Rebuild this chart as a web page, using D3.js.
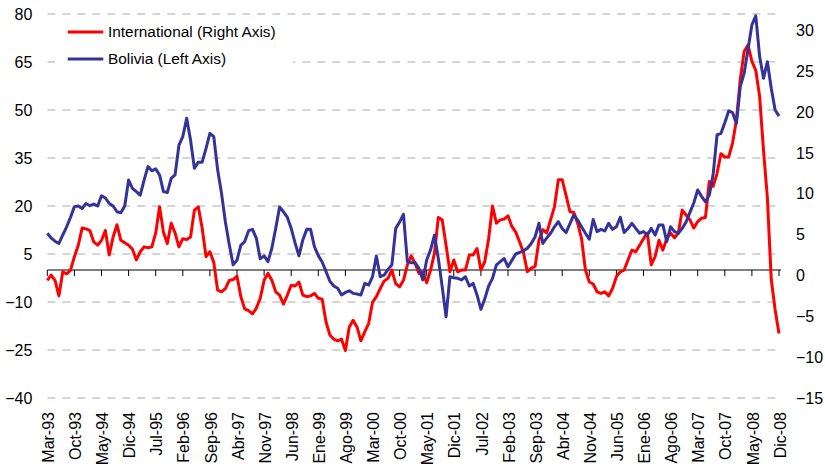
<!DOCTYPE html>
<html>
<head>
<meta charset="utf-8">
<script src="https://cdn.jsdelivr.net/npm/d3@7"></script>
<style>
  html, body { margin: 0; padding: 0; background: #fff; }
  svg { display: block; font-family: Arial, "Liberation Sans", sans-serif; }
</style>
</head>
<body>
<svg id="chart" width="825" height="470"></svg>
<script>
// ---- Data (monthly, Mar-93 .. Dic-08) ----
const tickLabels = ["Mar-93","Oct-93","May-94","Dic-94","Jul-95","Feb-96","Sep-96","Abr-97","Nov-97","Jun-98","Ene-99","Ago-99","Mar-00","Oct-00","May-01","Dic-01","Jul-02","Feb-03","Sep-03","Abr-04","Nov-04","Jun-05","Ene-06","Ago-06","Mar-07","Oct-07","May-08","Dic-08"];

const bolivia = [
  11.5, 10, 9, 8.3, 11, 13.5, 16.5, 19.8, 20, 19.2,
  20.8, 20.1, 20.6, 20, 23.2, 22.5, 20.8, 20, 18.2, 17.9,
  20, 28.1, 25.5, 24.5, 23.4, 28.1, 32.3, 31, 31.6, 29.7,
  24.5, 24.2, 28.6, 29.7, 39, 41.7, 47.4, 40.6, 31.8, 33.7,
  33.7, 38, 42.7, 41.7, 31.3, 24, 15, 8, 1.6, 3.1,
  7.8, 8.9, 12.3, 12.7, 9.9, 3.5, 4.4, 2.6, 6.8, 13,
  19.7, 18.2, 16.5, 13, 8.5, 4.4, 9.4, 12.7, 12.7, 7.3,
  4.5, 2.5, -0.5, -3.5, -5, -5.7, -7.8, -7, -6.5, -7.3,
  -7.5, -7.8, -4.2, -4.7, -2.1, 4.4, -2.1, -1.6, 0.2, 1.6,
  13, 15, 17.4, 2.6, 2.3, 2.3, 0.5, -3.1, 3.1, 6.3,
  10.9, 3.6, -5.2, -14.6, -2.1, -2.4, -2.6, -3.1, -2.1, -5,
  -4.2, -7.8, -12.3, -9, -5, -2.6, 1.6, 2.6, 3.6, 1.0,
  3, 5, 5.5, 6, 6.8, 8.3, 10.4, 14.6, 8.3, 10,
  11.5, 13.5, 15.1, 13, 11.7, 14.5, 17.2, 15.6, 13.5, 11.5,
  9.6, 15.8, 12, 12.7, 12.2, 14.6, 12.7, 13.5, 16.5, 11.7,
  13, 14.6, 13, 11.5, 12, 10.9, 13, 10.9, 14.1, 14.1,
  8.9, 13.5, 12, 11.5, 13, 15, 18, 21, 25, 23,
  21.3, 23.4, 30, 42.2, 42.7, 46, 49.7, 49.2, 45.8, 57.3,
  61.5, 69, 76.6, 79.4, 66.7, 59.9, 65.1, 56.8, 50, 48.1
];

const international = [
  -0.6, 0.05, -0.6, -2.5, 0.45, 0.2, 0.66, 2.3, 3.7, 5.8,
  5.7, 5.5, 4.1, 3.7, 4.3, 5.5, 2.5, 4.7, 6.2, 4.3,
  4.0, 3.7, 3.2, 1.9, 2.9, 3.5, 3.4, 3.5, 5.2, 8.4,
  5.3, 3.9, 6.4, 5.2, 3.5, 4.5, 4.4, 4.7, 8.0, 8.4,
  5.8, 2.3, 2.9, 1.6, -1.8, -2.0, -1.6, -0.6, -0.5, -0.1,
  -2.6, -4.1, -4.3, -4.7, -4.0, -2.8, -0.6, 0.25, -0.6, -2.0,
  -2.4, -3.5, -2.4, -1.2, -1.3, -0.8, -2.4, -2.6, -2.5, -2.2,
  -2.8, -2.9, -5.7, -7.3, -7.8, -8.0, -7.8, -9.2, -6.3, -5.5,
  -6.3, -8.0, -6.9, -5.9, -3.3, -2.6, -1.6, -0.7, -0.35, 0.66,
  -1.0, -1.4, -0.6, 1.3, 2.4, 1.5, 0.25, 0.45, -0.9, 0.66,
  2.7, 7.1, 6.8, 3.7, 0.45, 1.9, 0.45, 0.66, 0.66, 2.5,
  2.5, 3.3, 0.66, 1.7, 4.5, 8.5, 6.4, 6.8, 6.9, 7.3,
  6.0, 5.3, 4.1, 2.8, 0.45, 0.9, 1.1, 4.3, 5.6, 5.2,
  6.8, 8.4, 11.7, 11.7, 9.8, 7.8, 7.7, 6.4, 4.5, 0.66,
  -0.8, -1.05, -2.0, -2.2, -2.0, -2.5, -1.6, -0.15, 0.45, 0.66,
  1.9, 3.1, 2.9, 3.7, 4.5, 5.2, 1.3, 2.3, 4.3, 3.1,
  4.5, 5.2, 4.6, 5.2, 8.0, 7.4, 6.8, 5.8, 6.6, 7.0,
  7.1, 11.5, 10.9, 12.5, 14.9, 14.5, 14.5, 16.2, 19, 24,
  27.4, 28.2, 26.2, 25.1, 21.9, 15.3, 9.5, -0.5, -4.2, -7.1
];

const leftTicks = [-40, -25, -10, 5, 20, 35, 50, 65, 80];
const rightTicks = [-15, -10, -5, 0, 5, 10, 15, 20, 25, 30];
const tickEvery = 7;

// ---- Layout ----
const W = 825, H = 470;
const plot = { left: 47.3, right: 779, top: 14, bottom: 398 };

const svg = d3.select("#chart");

const x = d3.scaleLinear().domain([0, bolivia.length - 1]).range([plot.left, plot.right]);
const yL = d3.scaleLinear().domain([-40, 80]).range([plot.bottom, plot.top]);
const yR = d3.scaleLinear().domain([-15, 32]).range([plot.bottom, plot.top]);

// gridlines
svg.append("g").selectAll("line").data(leftTicks).join("line")
  .attr("x1", plot.left).attr("x2", plot.right)
  .attr("y1", d => yL(d)).attr("y2", d => yL(d))
  .attr("stroke", "#c8c8c8").attr("stroke-width", 1.3)
  .attr("stroke-dasharray", "8,7");

// left axis labels
const leftAxis = d3.axisLeft(yL).tickValues(leftTicks).tickSize(0).tickPadding(15);
const gL = svg.append("g").attr("transform", `translate(${plot.left},0)`).call(leftAxis);
gL.select(".domain").remove();
gL.selectAll("text").attr("font-size", 16).attr("fill", "#000")
  .attr("font-family", "Arial, 'Liberation Sans', sans-serif");

// right axis labels
const rightAxis = d3.axisRight(yR).tickValues(rightTicks).tickSize(0).tickPadding(17);
const gR = svg.append("g").attr("transform", `translate(${plot.right},0)`).call(rightAxis);
gR.select(".domain").remove();
gR.selectAll("text").attr("font-size", 16).attr("fill", "#000")
  .attr("font-family", "Arial, 'Liberation Sans', sans-serif");

// zero line with ticks
const zeroY = yL(0);
svg.append("line").attr("x1", plot.left).attr("x2", plot.right + 2)
  .attr("y1", zeroY).attr("y2", zeroY).attr("stroke", "#000").attr("stroke-width", 1.2);
const tickIdx = tickLabels.map((d, i) => i * tickEvery);
svg.append("g").selectAll("line").data(tickIdx).join("line")
  .attr("x1", d => x(d)).attr("x2", d => x(d))
  .attr("y1", zeroY).attr("y2", zeroY + 6)
  .attr("stroke", "#000").attr("stroke-width", 1);

// x labels
svg.append("g").selectAll("text").data(tickLabels).join("text")
  .attr("transform", (d, i) => `translate(${x(i * tickEvery) + 1},412) rotate(-90)`)
  .attr("text-anchor", "end").attr("dy", "0.35em")
  .attr("font-size", 16).attr("fill", "#000")
  .text(d => d);

// legend background (covers gridline)
svg.append("rect").attr("x", 55).attr("y", 18).attr("width", 238).attr("height", 54).attr("fill", "#fff");

// lines
const lineL = d3.line().x((d, i) => x(i)).y(d => yL(d));
const lineR = d3.line().x((d, i) => x(i)).y(d => yR(d));

svg.append("path").datum(international).attr("d", lineR)
  .attr("fill", "none").attr("stroke", "#ff0000").attr("stroke-width", 3)
  .attr("stroke-linejoin", "round");
svg.append("path").datum(bolivia).attr("d", lineL)
  .attr("fill", "none").attr("stroke", "#333399").attr("stroke-width", 3)
  .attr("stroke-linejoin", "round");

// legend
const legend = [
  { name: "International (Right Axis)", color: "#ff0000", y: 32 },
  { name: "Bolivia (Left Axis)", color: "#333399", y: 59 }
];
const lg = svg.append("g");
lg.selectAll("line").data(legend).join("line")
  .attr("x1", 67.7).attr("x2", 103.3)
  .attr("y1", d => d.y).attr("y2", d => d.y)
  .attr("stroke", d => d.color).attr("stroke-width", 3);
lg.selectAll("text").data(legend).join("text")
  .attr("x", 108).attr("y", d => d.y).attr("dy", "0.35em")
  .attr("font-size", 15.4).attr("fill", "#000")
  .text(d => d.name);
</script>
</body>
</html>
